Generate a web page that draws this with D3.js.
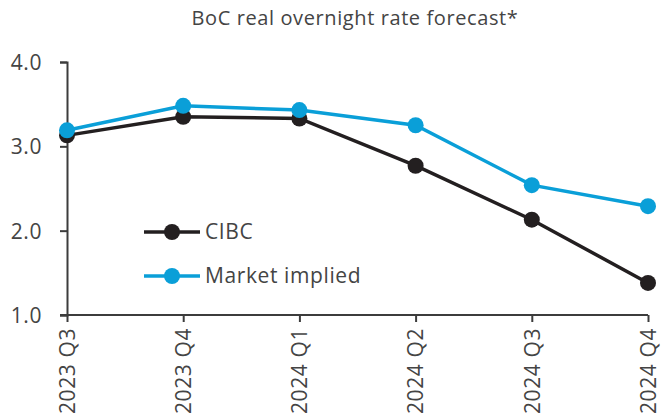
<!DOCTYPE html>
<head>
<meta charset="UTF-8">
<script src="https://cdnjs.cloudflare.com/ajax/libs/d3/7.8.5/d3.min.js"></script>
<style>
  body { margin: 0; background: #fff; }
  text { font-family: "Open Sans", Lato, sans-serif; fill: #444; letter-spacing: 0.6px; }
</style>
</head>
<body>
<svg id="chart"></svg>
<script>
    // ---- data ----
    var quarters = ["2023 Q3", "2023 Q4", "2024 Q1", "2024 Q2", "2024 Q3", "2024 Q4"];
    var cibc = [3.13, 3.35, 3.33, 2.77, 2.13, 1.38];
    var market = [3.19, 3.48, 3.43, 3.25, 2.54, 2.29];
    var yTicks = [1.0, 2.0, 3.0, 4.0];
    var seriesNames = ["CIBC", "Market implied"];
    var seriesColors = ["#231f20", "#0a9fd8"];

    var width = 661, height = 419;
    var margin = { top: 62, right: 13, bottom: 104, left: 67 };

    var svg = d3.select("#chart").attr("width", width).attr("height", height);

    var x = d3.scalePoint().domain(quarters).range([margin.left, width - margin.right]);
    var y = d3.scaleLinear().domain([1, 4]).range([height - margin.bottom, margin.top]);

    // title
    svg.append("text")
        .attr("x", 355).attr("y", 25)
        .attr("text-anchor", "middle")
        .style("font-size", "20px")
        .text("BoC real overnight rate forecast*");

    // y axis
    var yAxis = svg.append("g")
        .attr("transform", "translate(" + margin.left + ",0)")
        .call(d3.axisLeft(y).tickValues(yTicks).tickFormat(d3.format(".1f")).tickSize(7).tickPadding(18));
    yAxis.select(".domain").attr("stroke", "#3c3c3c").attr("stroke-width", 2);
    yAxis.selectAll(".tick line").attr("stroke", "#3c3c3c").attr("stroke-width", 2);
    yAxis.selectAll(".tick text").style("font-size", "21px").attr("fill", "#444").attr("dy", "0.35em");

    // x axis
    var xAxis = svg.append("g")
        .attr("transform", "translate(0," + y(1) + ")")
        .call(d3.axisBottom(x).tickSize(7).tickSizeOuter(0));
    xAxis.select(".domain").attr("stroke", "#3c3c3c").attr("stroke-width", 2)
        .attr("d", "M" + (margin.left - 7) + ",0H" + (width - margin.right));
    xAxis.selectAll(".tick line").attr("stroke", "#3c3c3c").attr("stroke-width", 2);
    xAxis.selectAll(".tick text")
        .style("font-size", "21px")
        .attr("fill", "#444")
        .attr("text-anchor", "end")
        .attr("transform", "rotate(-90)")
        .attr("x", -13).attr("y", 0).attr("dy", "0.35em");

    // lines
    var line = d3.line().x(function (d, i) { return x(quarters[i]); }).y(function (d) { return y(d); });
    var series = [cibc, market];

    series.forEach(function (vals, s) {
        svg.append("path")
            .datum(vals)
            .attr("d", line)
            .attr("fill", "none")
            .attr("stroke", seriesColors[s])
            .attr("stroke-width", 3.5);
    });
    // markers after lines so blue dots sit on top
    series.forEach(function (vals, s) {
        svg.append("g").selectAll("circle")
            .data(vals)
            .enter().append("circle")
            .attr("cx", function (d, i) { return x(quarters[i]); })
            .attr("cy", function (d) { return y(d); })
            .attr("r", 8)
            .attr("fill", seriesColors[s]);
    });

    // legend
    var legend = svg.append("g").attr("transform", "translate(144,232)");
    seriesNames.forEach(function (name, i) {
        var g = legend.append("g").attr("transform", "translate(0," + (i * 44) + ")");
        g.append("line").attr("x1", 0).attr("x2", 56).attr("y1", 0).attr("y2", 0)
            .attr("stroke", seriesColors[i]).attr("stroke-width", 3.5);
        g.append("circle").attr("cx", 28).attr("cy", 0).attr("r", 8).attr("fill", seriesColors[i]);
        g.append("text").attr("x", 61).attr("y", 0).attr("dy", "0.35em")
            .style("font-size", "21px").text(name);
    });
</script>
</body>
